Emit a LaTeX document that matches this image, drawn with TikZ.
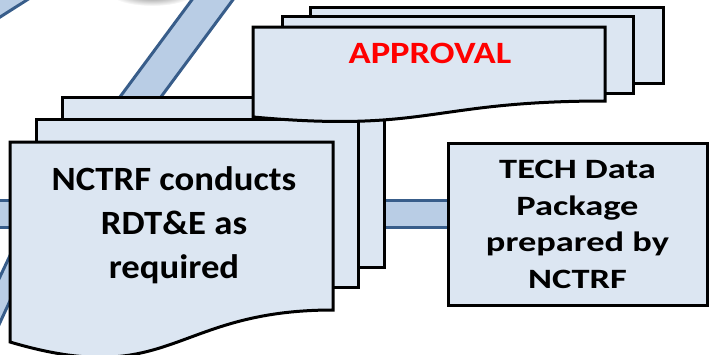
\documentclass[tikz,border=0pt]{standalone}
\usepackage{fontspec}
\setmainfont{Carlito}
\usepackage{graphicx}
\definecolor{docfill}{RGB}{220,230,242}
\definecolor{bandfill}{RGB}{185,205,229}
\definecolor{bandline}{RGB}{56,93,138}
\definecolor{apred}{RGB}{255,0,0}
\tikzset{
  docpage/.style={draw=black, line width=3pt, fill=docfill, line join=miter},
  bandbody/.style={fill=bandfill},
  bandedge/.style={draw=bandline, line width=3pt},
}
\begin{document}
\begin{tikzpicture}[x=1pt,y=-1pt]
\useasboundingbox (0,0) rectangle (710,354);
\clip (0,0) rectangle (710,354);
% shadow at top
\shade[inner color=black!55, outer color=white] (152,-7) ellipse [x radius=42pt, y radius=13pt];
% top-left band
\fill[bandbody] (-5,-5) -- (30,-5) -- (0,17) -- (-5,20) -- cycle;
\draw[bandedge] (30,-2) -- (-3,19);
% diagonal band
\fill[bandbody] (194,-3) -- (235,-3) -- (155,105) -- (114,105) -- cycle;
\draw[bandedge] (194,-3) -- (114,105);
\draw[bandedge] (235,-3) -- (155,105);
% horizontal band
\fill[bandbody] (-5,199) rectangle (448,229);
\draw[bandedge] (-5,200.5) -- (448,200.5);
\draw[bandedge] (-5,227.5) -- (448,227.5);
% bottom-left diagonal band
\fill[bandbody] (-3,283) -- (15,245) -- (15,290) -- (-3,329) -- cycle;
\draw[bandedge] (-3,283) -- (15,245);
\draw[bandedge] (-3,329) -- (15,290);
% NCTRF multidocument
\draw[docpage] (62,97) rectangle (384,267);
\draw[docpage] (36,119) rectangle (358,287);
\draw[docpage] (10,142) -- (333,142) -- (333,310)
  .. controls (172,310) and (172,390) .. (10,342) -- cycle;
\node (nctrf) at (174,225.2) {\fontsize{34}{44}\selectfont\bfseries
  \scalebox{1.08}[1]{\begin{tabular}{@{}c@{}}NCTRF conducts\\RDT\&E as\\required\end{tabular}}};
% APPROVAL multidocument
\draw[docpage] (310,7) rectangle (663,83);
\draw[docpage] (282,16) rectangle (633,93);
\draw[docpage] (253,27) -- (605,27) -- (605,101)
  .. controls (429,101) and (429,133) .. (253,117) -- cycle;
\node[anchor=base, text=apred] (approval) at (430,63) {\fontsize{31}{36}\selectfont\bfseries\scalebox{1.18}[1]{APPROVAL}};
% TECH box
\draw[docpage] (448,143) rectangle (707,305);
\node (tech) at (577.5,226) {\fontsize{28}{36.5}\selectfont\bfseries
  \scalebox{1.3}[1]{\begin{tabular}{@{}c@{}}TECH Data\\Package\\prepared by\\NCTRF\end{tabular}}};
\end{tikzpicture}
\end{document}
